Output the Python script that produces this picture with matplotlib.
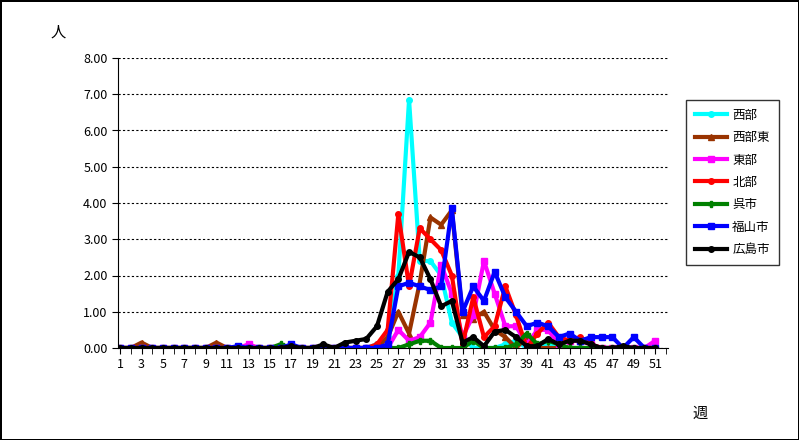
import numpy as np
import matplotlib.pyplot as plt
from matplotlib.ticker import FormatStrFormatter

plt.rcParams['font.family'] = ['Noto Sans CJK JP', 'DejaVu Sans']

weeks = list(range(1, 52))

def series(d):
    v = [0.0] * 51
    for k, val in d.items():
        v[k - 1] = val
    return v

nishi = series({25: 0.1, 26: 0.3, 27: 2.0, 28: 6.85, 29: 2.4, 30: 2.4, 31: 2.0, 32: 0.7,
                33: 0.3, 37: 0.1, 38: 0.2, 41: 0.1})
nishi_higashi = series({3: 0.15, 10: 0.15, 26: 0.3, 27: 1.0, 28: 0.4, 29: 1.8, 30: 3.6, 31: 3.4,
                        32: 3.8, 33: 0.9, 34: 0.8, 35: 1.0, 36: 0.5, 37: 0.3, 39: 0.3})
higashi = series({13: 0.1, 27: 0.5, 28: 0.2, 29: 0.3, 30: 0.7, 31: 2.3, 32: 1.5, 33: 0.3, 34: 0.9,
                  35: 2.4, 36: 1.5, 37: 0.6, 38: 0.6, 39: 0.1, 40: 0.5, 41: 0.5, 42: 0.1,
                  43: 0.2, 44: 0.2, 45: 0.1, 51: 0.2})
kita = series({25: 0.1, 26: 0.5, 27: 3.7, 28: 1.7, 29: 3.3, 30: 3.0, 31: 2.7, 32: 2.0, 33: 0.1,
               34: 1.4, 35: 0.3, 36: 0.6, 37: 1.7, 38: 0.9, 40: 0.4, 41: 0.7, 42: 0.3,
               43: 0.2, 44: 0.3, 45: 0.1})
kure = series({16: 0.1, 28: 0.1, 29: 0.2, 30: 0.2, 34: 0.2, 38: 0.1, 39: 0.4, 40: 0.1,
               41: 0.2, 42: 0.1})
fukuyama = series({12: 0.05, 17: 0.1, 26: 0.1, 27: 1.7, 28: 1.8, 29: 1.7, 30: 1.6, 31: 1.7,
                   32: 3.85, 33: 1.0, 34: 1.7, 35: 1.3, 36: 2.1, 37: 1.4, 38: 1.0, 39: 0.6,
                   40: 0.7, 41: 0.6, 42: 0.3, 43: 0.4, 44: 0.2, 45: 0.3, 46: 0.3, 47: 0.3,
                   49: 0.3})
hiroshima = series({17: 0.05, 20: 0.1, 22: 0.15, 23: 0.2, 24: 0.25, 25: 0.6, 26: 1.55, 27: 1.9,
                    28: 2.65, 29: 2.5, 30: 1.9, 31: 1.15, 32: 1.3, 33: 0.15, 34: 0.3, 35: 0.05,
                    36: 0.45, 37: 0.5, 38: 0.3, 39: 0.05, 40: 0.05, 41: 0.25, 42: 0.1,
                    43: 0.2, 44: 0.2, 45: 0.1, 48: 0.05})

lines = [
    ('西部', nishi, '#00ffff', 'o'),
    ('西部東', nishi_higashi, '#993300', '^'),
    ('東部', higashi, '#ff00ff', 's'),
    ('北部', kita, '#ff0000', 'o'),
    ('呉市', kure, '#008000', 'P'),
    ('福山市', fukuyama, '#0000ff', 's'),
    ('広島市', hiroshima, '#000000', 'o'),
]

fig = plt.figure(figsize=(7.99, 4.40), dpi=100)
fig.patch.set_edgecolor('black')
fig.patch.set_linewidth(2)
ax = fig.add_axes([118 / 799, 1 - 348 / 440, 550 / 799, 290 / 440])

for name, vals, col, mk in lines:
    ax.plot(weeks, vals, color=col, lw=3, marker=mk, ms=4, label=name)

ax.set_xlim(0.8, 52.2)
ax.set_ylim(0, 8)
ax.set_yticks(np.arange(0, 8.01, 1))
ax.yaxis.set_major_formatter(FormatStrFormatter('%.2f'))
ax.set_xticks(range(1, 53, 2))
ax.set_xticks(range(1, 53), minor=True)
ax.tick_params(axis='x', which='both', direction='out', length=4, labelsize=9)
ax.tick_params(axis='y', direction='out', length=4, labelsize=9)
ax.grid(axis='y', color='black', ls=(0, (2, 2)), lw=0.8)
for s in ['top', 'right']:
    ax.spines[s].set_visible(False)

leg = fig.legend(loc='upper left', bbox_to_anchor=(686 / 799, 1 - 100 / 440),
                 frameon=True, fancybox=False, edgecolor='black', fontsize=9,
                 handlelength=2.6, handletextpad=0.4, borderpad=0.7, labelspacing=0.75,
                 borderaxespad=0)
fig.text(58 / 799, 1 - 32 / 440, '人', fontsize=11, ha='center', va='center')
fig.text(700 / 799, 1 - 413 / 440, '週', fontsize=11, ha='center', va='center')

fig.savefig('out.png', dpi=100)
